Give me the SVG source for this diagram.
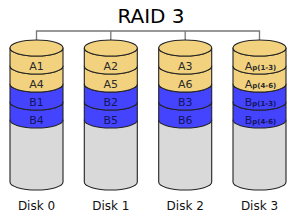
<svg xmlns="http://www.w3.org/2000/svg" xmlns:xlink="http://www.w3.org/1999/xlink" width="300" height="222" viewBox="0 0 300 222">
<style>
.ol{stroke:#222;stroke-width:1.1;stroke-linejoin:round}
.tan{fill:#f3d27f}
.blue{fill:#4444ff}
.grey{fill:#d9d9d9}
.conn{fill:none;stroke:#777;stroke-width:1.3}
text{font-family:"DejaVu Sans",Verdana,sans-serif}
.lt{font-size:11px;fill:#2a2a2a;text-anchor:middle}
.lb{font-size:11px;fill:#14145a;text-anchor:middle}
.sub{font-size:7px;font-weight:bold}
.dl{font-size:12px;fill:#111;text-anchor:middle}
.title{font-size:20px;fill:#000;text-anchor:middle}
</style>
<defs>
<g id="cyl">
<path class="ol grey" d="M-26.5,120 L-26.5,182 A26.5,8 0 0 0 26.5,182 L26.5,120 Z" stroke-width="1.6"/>
<path class="ol blue" d="M-26.5,102 A26.5,8 0 0 0 26.5,102 L26.5,120 A26.5,8 0 0 1 -26.5,120 Z"/>
<path class="ol blue" d="M-26.5,84 A26.5,8 0 0 0 26.5,84 L26.5,102 A26.5,8 0 0 1 -26.5,102 Z"/>
<path class="ol tan" d="M-26.5,66 A26.5,8 0 0 0 26.5,66 L26.5,84 A26.5,8 0 0 1 -26.5,84 Z"/>
<path class="ol tan" d="M-26.5,48 A26.5,8 0 0 0 26.5,48 L26.5,66 A26.5,8 0 0 1 -26.5,66 Z"/>
<ellipse class="ol tan" cx="0" cy="48" rx="26.5" ry="8"/>
</g>
</defs>
<text class="title" x="151" y="23">RAID 3</text>
<g id="connectors">
<path class="conn" d="M36.5,48 V31 H259.5 V48 M110.8,31 V48 M185.2,31 V48"/>
</g>
<g id="disk0">
<use xlink:href="#cyl" transform="translate(36.5,0)"/>
<text class="lt" x="36.5" y="70">A1</text>
<text class="lt" x="36.5" y="88">A4</text>
<text class="lb" x="36.5" y="106">B1</text>
<text class="lb" x="36.5" y="124">B4</text>
<text class="dl" x="36.5" y="210">Disk 0</text>
</g>
<g id="disk1">
<use xlink:href="#cyl" transform="translate(110.8,0)"/>
<text class="lt" x="110.8" y="70">A2</text>
<text class="lt" x="110.8" y="88">A5</text>
<text class="lb" x="110.8" y="106">B2</text>
<text class="lb" x="110.8" y="124">B5</text>
<text class="dl" x="110.8" y="210">Disk 1</text>
</g>
<g id="disk2">
<use xlink:href="#cyl" transform="translate(185.2,0)"/>
<text class="lt" x="185.2" y="70">A3</text>
<text class="lt" x="185.2" y="88">A6</text>
<text class="lb" x="185.2" y="106">B3</text>
<text class="lb" x="185.2" y="124">B6</text>
<text class="dl" x="185.2" y="210">Disk 2</text>
</g>
<g id="disk3">
<use xlink:href="#cyl" transform="translate(259.5,0)"/>
<text class="lt" x="260.5" y="70">A<tspan class="sub">p(1-3)</tspan></text>
<text class="lt" x="260.5" y="88">A<tspan class="sub">p(4-6)</tspan></text>
<text class="lb" x="260.5" y="106">B<tspan class="sub">p(1-3)</tspan></text>
<text class="lb" x="260.5" y="124">B<tspan class="sub">p(4-6)</tspan></text>
<text class="dl" x="259.5" y="210">Disk 3</text>
</g>
</svg>
